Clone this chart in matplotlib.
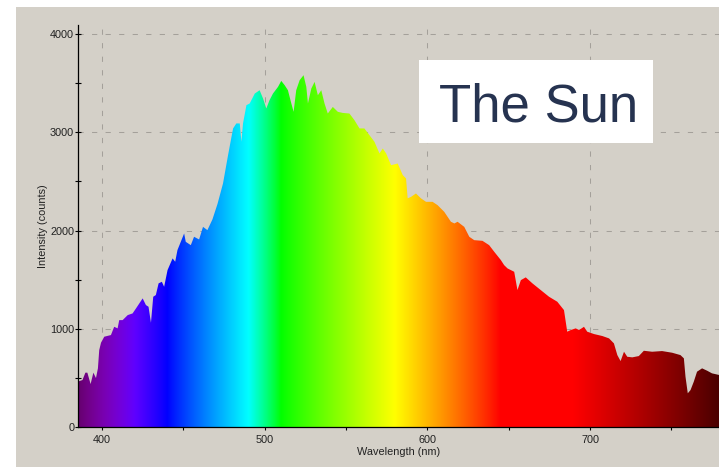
import numpy as np
import matplotlib
matplotlib.use('Agg')
import matplotlib.pyplot as plt
from matplotlib.patches import Polygon, Rectangle

# solar spectrum (nm, counts)
wavelength = [385.0, 388.0, 389.8, 391.0, 393.0, 394.7, 396.3, 397.5, 398.3, 399.4,
              401.4, 405.5, 407.5, 409.6, 410.6, 412.7, 415.8, 418.8, 420.9, 425.0,
              427.0, 428.6, 430.1, 431.5, 433.1, 434.8, 436.8, 438.2, 440.3, 443.4,
              445.0, 446.4, 450.5, 451.5, 454.6, 456.6, 459.7, 462.1, 464.8, 467.9,
              471.0, 474.4, 477.5, 479.6, 480.6, 482.6, 484.7, 485.7, 486.7, 488.8,
              490.8, 493.9, 496.9, 499.0, 501.0, 503.0, 505.1, 508.2, 510.2, 512.3,
              514.3, 516.4, 517.8, 519.4, 521.5, 523.9, 525.6, 526.6, 528.7, 530.7,
              532.7, 534.8, 536.8, 538.8, 541.9, 545.0, 548.0, 552.1, 555.2, 558.3,
              561.3, 567.5, 570.6, 572.6, 574.7, 577.7, 581.8, 584.9, 586.9, 587.9,
              590.0, 593.0, 596.1, 599.2, 603.2, 606.3, 610.4, 614.5, 616.6, 618.6,
              622.7, 625.8, 628.8, 633.9, 638.0, 641.1, 645.2, 647.2, 649.3, 653.4,
              655.4, 657.5, 660.5, 664.6, 669.7, 674.8, 679.9, 684.0, 686.0, 688.2,
              691.2, 693.3, 696.3, 698.3, 702.5, 707.6, 711.7, 714.7, 716.8, 718.8,
              720.9, 722.9, 726.0, 730.0, 733.1, 738.2, 744.3, 750.5, 755.6, 757.7,
              758.7, 760.1, 761.8, 763.8, 765.8, 768.9, 772.0, 775.0, 779.5]
intensity = [461, 478, 553, 553, 437, 553, 498, 597, 783, 858,
             919, 936, 1020, 1004, 1088, 1088, 1139, 1156, 1207, 1309,
             1241, 1224, 1061, 1326, 1343, 1462, 1478, 1427, 1597, 1716,
             1682, 1801, 1970, 1885, 1851, 1936, 1909, 2037, 2004, 2113,
             2270, 2479, 2767, 2953, 3039, 3090, 3090, 2903, 3090, 3276,
             3293, 3394, 3428, 3344, 3242, 3327, 3394, 3462, 3523, 3479,
             3428, 3293, 3208, 3428, 3530, 3581, 3462, 3293, 3446, 3513,
             3377, 3428, 3293, 3191, 3258, 3208, 3197, 3191, 3123, 3039,
             3039, 2903, 2784, 2835, 2784, 2665, 2682, 2564, 2530, 2327,
             2343, 2377, 2327, 2292, 2292, 2258, 2190, 2089, 2072, 2089,
             2037, 1936, 1902, 1895, 1851, 1784, 1699, 1648, 1614, 1580,
             1394, 1495, 1523, 1462, 1394, 1326, 1275, 1190, 970, 987,
             1004, 987, 1020, 970, 946, 926, 902, 851, 732, 671,
             766, 715, 709, 722, 776, 766, 773, 756, 732, 699,
             512, 343, 376, 461, 563, 597, 573, 546, 529]

x_ticks = [400, 500, 600, 700]
y_ticks = [0, 1000, 2000, 3000, 4000]
x_range = (385.25, 779.3)
y_range = (0, 4092)

BG = '#d4d0c8'
FONT = 'Liberation Sans'


def spectrum_rgb(w):
    # classic wavelength -> rgb approximation
    w = np.asarray(w, dtype=float)
    r = np.zeros_like(w); g = np.zeros_like(w); b = np.zeros_like(w)
    m = w < 440
    r[m] = -(w[m] - 440) / 60; b[m] = 1
    m = (w >= 440) & (w < 490)
    g[m] = (w[m] - 440) / 50; b[m] = 1
    m = (w >= 490) & (w < 510)
    g[m] = 1; b[m] = -(w[m] - 510) / 20
    m = (w >= 510) & (w < 580)
    r[m] = (w[m] - 510) / 70; g[m] = 1
    m = (w >= 580) & (w < 645)
    r[m] = 1; g[m] = -(w[m] - 645) / 65
    m = w >= 645
    r[m] = 1
    f = np.ones_like(w)
    m = w < 420
    f[m] = 0.3 + 0.7 * (w[m] - 380) / 40
    m = w > 690
    f[m] = 0.25 + 0.75 * (780 - w[m]) / 90
    rgb = np.stack([r * f, g * f, b * f], axis=-1)
    return np.clip(rgb, 0, 1) ** 0.9


W, H = 719, 467
fig = plt.figure(figsize=(W / 100, H / 100), dpi=100, facecolor=BG)
# white strips on the left and top edges
fig.patches.append(Rectangle((0, 0), 16 / W, 1, transform=fig.transFigure,
                             facecolor='white', edgecolor='none', zorder=-5))
fig.patches.append(Rectangle((0, 1 - 7 / H), 1, 7 / H, transform=fig.transFigure,
                             facecolor='white', edgecolor='none', zorder=-5))

ax = fig.add_axes([78 / W, 40 / H, (W - 78) / W, (427 - 25) / H])
ax.set_facecolor(BG)
ax.set_xlim(*x_range)
ax.set_ylim(*y_range)

# rainbow fill clipped to the spectrum outline
cols = np.linspace(x_range[0], x_range[1], 800)
img = spectrum_rgb(cols)[np.newaxis, :, :]
im = ax.imshow(img, extent=[x_range[0], x_range[1], 0, y_range[1]],
               aspect='auto', origin='lower', interpolation='bilinear', zorder=2)
verts = [(wavelength[0], 0)] + list(zip(wavelength, intensity)) + [(wavelength[-1], 0)]
poly = Polygon(verts, closed=True, facecolor='none', edgecolor='none')
ax.add_patch(poly)
im.set_clip_path(poly)

ax.set_xticks(x_ticks)
ax.set_xticks([450, 550, 650, 750], minor=True)
ax.set_yticks(y_ticks)
ax.set_yticks([500, 1500, 2500, 3500], minor=True)
ax.grid(True, which='major', color='#a4a09a', linewidth=0.75, dashes=(5, 8), zorder=1)
ax.set_axisbelow(True)

for s in ['top', 'right']:
    ax.spines[s].set_visible(False)
for s in ['left', 'bottom']:
    ax.spines[s].set_color('black')
    ax.spines[s].set_linewidth(0.9)
    ax.spines[s].set_zorder(3)

ax.tick_params(axis='y', which='both', direction='inout', length=4.5, width=0.8,
               pad=0.5, labelsize=7.8, labelcolor='#222222')
ax.tick_params(axis='x', which='both', direction='out', length=2.5, width=0.8,
               pad=3, labelsize=7.8, labelcolor='#222222')
for lab in ax.get_xticklabels() + ax.get_yticklabels():
    lab.set_fontfamily(FONT)

fig.text(399 / W, 1 - 452 / H, 'Wavelength (nm)', ha='center', va='center',
         fontsize=7.8, family=FONT, color='#222222')
fig.text(42.7 / W, 1 - 226.5 / H, 'Intensity (counts)', ha='center', va='center',
         rotation=90, fontsize=7.8, family=FONT, color='#222222')

# title box
fig.patches.append(Rectangle((419 / W, 1 - 143 / H), (653 - 419) / W, (143 - 60) / H,
                             transform=fig.transFigure, facecolor='white',
                             edgecolor='none', zorder=5))
fig.text(538.5 / W, 1 - 121.7 / H, 'The Sun', ha='center', va='baseline',
         fontsize=38, family=FONT, color='#263350', zorder=6)

fig.savefig('out.png', dpi=100, facecolor=fig.get_facecolor())
